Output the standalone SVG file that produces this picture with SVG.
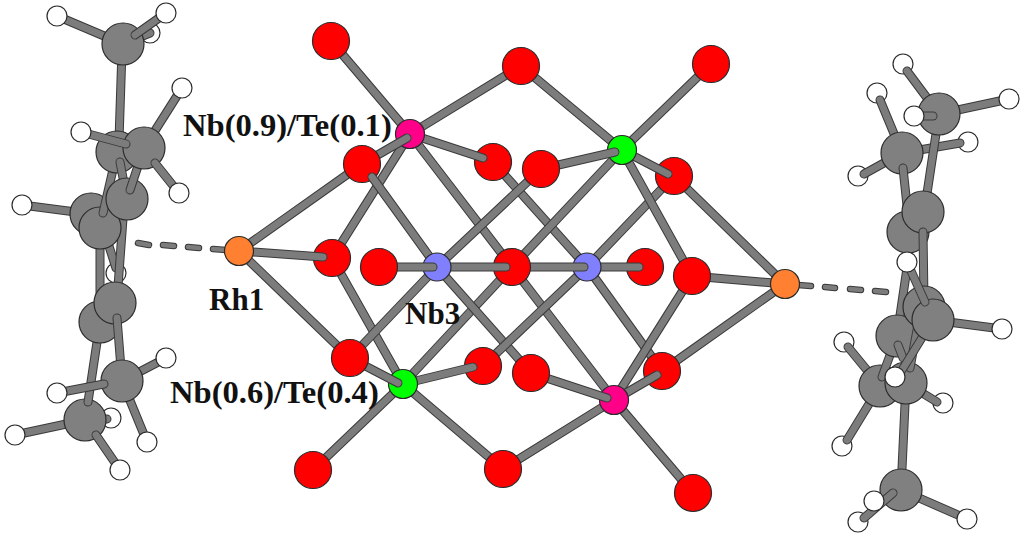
<svg xmlns="http://www.w3.org/2000/svg" width="1024" height="538" viewBox="0 0 1024 538">
<style>
.o{stroke:#3a3a3a;stroke-width:9;stroke-linecap:round;fill:none}
.i{stroke:#7c7c7c;stroke-width:7;stroke-linecap:round;fill:none}
.do{stroke:#3a3a3a;stroke-width:6.5;stroke-linecap:round;fill:none}
.di{stroke:#7c7c7c;stroke-width:4.5;stroke-linecap:round;fill:none}
circle{stroke:#2b2b2b;stroke-width:1.2}
.O circle{fill:#ff0000}
.C circle{fill:#808080}
.H circle{fill:#ffffff}
.P circle{fill:#ff0088}
.G circle{fill:#00ff00}
.B circle{fill:#8080ff}
.R circle{fill:#ff8030}
text{font-family:"Liberation Serif","Times New Roman",serif;font-weight:bold;font-size:31px;fill:#111}
text.long{font-size:32.6px}
</style>
<rect width="1024" height="538" fill="#ffffff"/>

<g id="bonds-core-back">
<path class="o" d="M331 41L410 134"/><path class="i" d="M331 41L410 134"/>
<path class="o" d="M521 66L410 134"/><path class="i" d="M521 66L410 134"/>
<path class="o" d="M521 66L622 150"/><path class="i" d="M521 66L622 150"/>
<path class="o" d="M711 64L622 150"/><path class="i" d="M711 64L622 150"/>
<path class="o" d="M410 134L332 258"/><path class="i" d="M410 134L332 258"/>
<path class="o" d="M410 134L512 267"/><path class="i" d="M410 134L512 267"/>
<path class="o" d="M493 162L587 267"/><path class="i" d="M493 162L587 267"/>
<path class="o" d="M541 169L437 267"/><path class="i" d="M541 169L437 267"/>
<path class="o" d="M622 150L512 267"/><path class="i" d="M622 150L512 267"/>
<path class="o" d="M674 176L587 267"/><path class="i" d="M674 176L587 267"/>
<path class="o" d="M622 150L692 276"/><path class="i" d="M622 150L692 276"/>
<path class="o" d="M332 258L403 384"/><path class="i" d="M332 258L403 384"/>
<path class="o" d="M437 267L350 358"/><path class="i" d="M437 267L350 358"/>
<path class="o" d="M512 267L403 384"/><path class="i" d="M512 267L403 384"/>
<path class="o" d="M437 267L531 373"/><path class="i" d="M437 267L531 373"/>
<path class="o" d="M512 267L614 400"/><path class="i" d="M512 267L614 400"/>
<path class="o" d="M587 267L483 366"/><path class="i" d="M587 267L483 366"/>
<path class="o" d="M587 267L662 371"/><path class="i" d="M587 267L662 371"/>
<path class="o" d="M692 276L614 400"/><path class="i" d="M692 276L614 400"/>
<path class="o" d="M403 384L313 470"/><path class="i" d="M403 384L313 470"/>
<path class="o" d="M403 384L503 469"/><path class="i" d="M403 384L503 469"/>
<path class="o" d="M503 469L614 400"/><path class="i" d="M503 469L614 400"/>
<path class="o" d="M614 400L693 493"/><path class="i" d="M614 400L693 493"/>
<path class="o" d="M239 251L362 164"/><path class="i" d="M239 251L362 164"/>
<path class="o" d="M239 251L350 358"/><path class="i" d="M239 251L350 358"/>
<path class="o" d="M785 284L674 176"/><path class="i" d="M785 284L674 176"/>
<path class="o" d="M785 284L692 276"/><path class="i" d="M785 284L692 276"/>
<path class="o" d="M785 284L662 371"/><path class="i" d="M785 284L662 371"/>
</g>
<g id="bonds-dashed">
<path class="do" d="M213 249L239 251M188 247L199 248M163 245L174 246M138 243L149 245"/><path class="di" d="M213 249L239 251M188 247L199 248M163 245L174 246M138 243L149 245"/>
<path class="do" d="M785 284L811 286M825 287L835 288M850 289L861 290M875 291L886 292"/><path class="di" d="M785 284L811 286M825 287L835 288M850 289L861 290M875 291L886 292"/>
</g>

<g id="O1" class="O"><circle cx="331" cy="41" r="18.5"/></g>
<g id="O2" class="O"><circle cx="521" cy="66" r="18.5"/></g>
<g id="O3" class="O"><circle cx="711" cy="64" r="18.5"/></g>
<g id="O4" class="O"><circle cx="645" cy="267" r="18.5"/></g>
<g class="bonds"><path class="o" d="M587 267L639 267"/><path class="i" d="M587 267L639 267"/></g>
<g id="Nb4" class="B"><circle cx="587" cy="267" r="14"/></g>
<g class="bonds"><path class="o" d="M512 267L584 267"/><path class="i" d="M512 267L584 267"/></g>
<g id="O5" class="O"><circle cx="512" cy="267" r="18.5"/></g>
<g class="bonds"><path class="o" d="M437 267L506 267"/><path class="i" d="M437 267L506 267"/></g>
<g id="O6" class="O"><circle cx="493" cy="162" r="18.5"/></g>
<g class="bonds"><path class="o" d="M410 134L483 158"/><path class="i" d="M410 134L483 158"/></g>
<g id="NbTe1" class="P"><circle cx="410" cy="134" r="14.5"/></g>
<g class="bonds"><path class="o" d="M362 164L407 138"/><path class="i" d="M362 164L407 138"/></g>
<g id="O7" class="O"><circle cx="362" cy="164" r="18.5"/></g>
<g class="bonds"><path class="o" d="M372 177L437 267"/><path class="i" d="M372 177L437 267"/></g>
<g id="Nb3" class="B"><circle cx="437" cy="267" r="14"/></g>
<g class="bonds"><path class="o" d="M379 267L433 267"/><path class="i" d="M379 267L433 267"/></g>
<g id="O8" class="O"><circle cx="379" cy="267" r="18.5"/></g>
<g id="O9" class="O"><circle cx="674" cy="176" r="18.5"/></g>
<g class="bonds"><path class="o" d="M622 150L668 174"/><path class="i" d="M622 150L668 174"/></g>
<g id="NbTe2" class="G"><circle cx="622" cy="150" r="14.5"/></g>
<g class="bonds"><path class="o" d="M541 169L615 152"/><path class="i" d="M541 169L615 152"/></g>
<g id="O10" class="O"><circle cx="541" cy="169" r="18.5"/></g>
<g id="O11" class="O"><circle cx="483" cy="366" r="18.5"/></g>
<g class="bonds"><path class="o" d="M403 384L473 367"/><path class="i" d="M403 384L473 367"/></g>
<g id="NbTe3" class="G"><circle cx="403" cy="384" r="14.5"/></g>
<g class="bonds"><path class="o" d="M350 358L398 383"/><path class="i" d="M350 358L398 383"/></g>
<g id="O12" class="O"><circle cx="350" cy="358" r="18.5"/></g>
<g id="O13" class="O"><circle cx="662" cy="371" r="18.5"/></g>
<g class="bonds"><path class="o" d="M614 400L657 375"/><path class="i" d="M614 400L657 375"/></g>
<g id="NbTe4" class="P"><circle cx="614" cy="400" r="14.5"/></g>
<g class="bonds"><path class="o" d="M531 373L607 398"/><path class="i" d="M531 373L607 398"/></g>
<g id="O14" class="O"><circle cx="531" cy="373" r="18.5"/></g>
<g id="O15" class="O"><circle cx="692" cy="276" r="18.5"/></g>
<g id="O16" class="O"><circle cx="313" cy="470" r="18.5"/></g>
<g id="O17" class="O"><circle cx="503" cy="469" r="18.5"/></g>
<g id="O18" class="O"><circle cx="693" cy="493" r="18.5"/></g>
<g id="O19" class="O"><circle cx="332" cy="258" r="18.5"/></g>
<g class="bonds"><path class="o" d="M239 251L323 257"/><path class="i" d="M239 251L323 257"/></g>
<g id="Rh1" class="R"><circle cx="239" cy="251" r="14.5"/></g>
<g id="Rh2" class="R"><circle cx="785" cy="284" r="14.5"/></g>

<!-- left ligand -->
<g id="LH1" class="H"><circle cx="150" cy="33" r="10"/></g>
<g class="bonds">
<path class="o" d="M150 33L123 44"/><path class="i" d="M150 33L123 44"/>
<path class="o" d="M57 16L123 44"/><path class="i" d="M57 16L123 44"/>
<path class="o" d="M122 50L119 140"/><path class="i" d="M122 50L119 140"/>
</g>
<g id="LC1" class="C"><circle cx="123" cy="44" r="21"/></g>
<g class="bonds"><path class="o" d="M135 35L166 13"/><path class="i" d="M135 35L166 13"/></g>
<g id="LH2" class="H"><circle cx="57" cy="16" r="10"/></g>
<g id="LH3" class="H"><circle cx="166" cy="13" r="10"/></g>
<g id="LH4" class="H"><circle cx="116" cy="273" r="10"/></g>
<g class="bonds">
<path class="o" d="M100 228L100 310"/><path class="i" d="M100 228L100 310"/>
<path class="o" d="M107 240L116 268"/><path class="i" d="M107 240L116 268"/>
<path class="o" d="M124 205L117 300"/><path class="i" d="M124 205L117 300"/>
<path class="o" d="M22 205L91 214"/><path class="i" d="M22 205L91 214"/>
</g>
<g id="LC5" class="C"><circle cx="91" cy="214" r="21"/></g>
<g id="LC6" class="C"><circle cx="100" cy="228" r="21"/></g>
<g class="bonds"><path class="o" d="M103 213L117 152"/><path class="i" d="M103 213L117 152"/></g>
<g id="LC2" class="C"><circle cx="117" cy="152" r="21"/></g>
<g class="bonds"><path class="o" d="M120 162L127 199"/><path class="i" d="M120 162L127 199"/></g>
<g id="LC4" class="C"><circle cx="127" cy="199" r="21"/></g>
<g class="bonds">
<path class="o" d="M144 148L130 190"/><path class="i" d="M144 148L130 190"/>
<path class="o" d="M144 148L182 88"/><path class="i" d="M144 148L182 88"/>
</g>
<g id="LC3" class="C"><circle cx="144" cy="148" r="21"/></g>
<g class="bonds">
<path class="o" d="M155 163L179 193"/><path class="i" d="M155 163L179 193"/>
<path class="o" d="M81 132L126 144"/><path class="i" d="M81 132L126 144"/>
</g>
<g id="LH5" class="H"><circle cx="81" cy="132" r="10"/></g>
<g id="LH6" class="H"><circle cx="182" cy="88" r="10"/></g>
<g id="LH7" class="H"><circle cx="179" cy="193" r="10"/></g>
<g id="LH8" class="H"><circle cx="22" cy="205" r="10"/></g>
<g id="LH9" class="H"><circle cx="111" cy="418" r="10"/></g>
<g class="bonds">
<path class="o" d="M107 419L85 420"/><path class="i" d="M107 419L85 420"/>
<path class="o" d="M15 435L85 420"/><path class="i" d="M15 435L85 420"/>
</g>
<g id="LC10" class="C"><circle cx="85" cy="420" r="21"/></g>
<g class="bonds">
<path class="o" d="M100 322L88 402"/><path class="i" d="M100 322L88 402"/>
<path class="o" d="M96 435L120 470"/><path class="i" d="M96 435L120 470"/>
</g>
<g id="LC8" class="C"><circle cx="100" cy="322" r="21"/></g>
<g id="LC7" class="C"><circle cx="115" cy="303" r="21"/></g>
<g class="bonds">
<path class="o" d="M117 318L122 381"/><path class="i" d="M117 318L122 381"/>
<path class="o" d="M122 381L166 358"/><path class="i" d="M122 381L166 358"/>
<path class="o" d="M122 381L147 442"/><path class="i" d="M122 381L147 442"/>
</g>
<g id="LC9" class="C"><circle cx="122" cy="381" r="21"/></g>
<g class="bonds"><path class="o" d="M57 393L104 384"/><path class="i" d="M57 393L104 384"/></g>
<g id="LH10" class="H"><circle cx="57" cy="393" r="10"/></g>
<g id="LH11" class="H"><circle cx="166" cy="358" r="10"/></g>
<g id="LH12" class="H"><circle cx="147" cy="442" r="10"/></g>
<g id="LH13" class="H"><circle cx="15" cy="435" r="10"/></g>
<g id="LH14" class="H"><circle cx="120" cy="470" r="10"/></g>

<!-- right ligand -->
<g id="RH1" class="H"><circle cx="968" cy="142" r="10"/></g>
<g id="RH2" class="H"><circle cx="903" cy="64" r="10"/></g>
<g id="RH3" class="H"><circle cx="877" cy="93" r="10"/></g>
<g id="RH4" class="H"><circle cx="858" cy="176" r="10"/></g>
<g class="bonds">
<path class="o" d="M902 153L960 143"/><path class="i" d="M902 153L960 143"/>
<path class="o" d="M907 71L939 114"/><path class="i" d="M907 71L939 114"/>
<path class="o" d="M880 100L902 153"/><path class="i" d="M880 100L902 153"/>
<path class="o" d="M864 174L902 153"/><path class="i" d="M864 174L902 153"/>
<path class="o" d="M939 114L1009 99"/><path class="i" d="M939 114L1009 99"/>
<path class="o" d="M939 114L926 200"/><path class="i" d="M939 114L926 200"/>
</g>
<g id="RC1" class="C"><circle cx="939" cy="114" r="21"/></g>
<g class="bonds"><path class="o" d="M914 116L933 116"/><path class="i" d="M914 116L933 116"/></g>
<g id="RH5" class="H"><circle cx="914" cy="116" r="10"/></g>
<g id="RH6" class="H"><circle cx="1009" cy="99" r="10"/></g>
<g id="RC2" class="C"><circle cx="902" cy="153" r="21"/></g>
<g class="bonds"><path class="o" d="M903 168L908 215"/><path class="i" d="M903 168L908 215"/></g>
<g id="RC3" class="C"><circle cx="908" cy="232" r="21"/></g>
<g id="RC4" class="C"><circle cx="923" cy="212" r="21"/></g>
<g class="bonds"><path class="o" d="M923 232L924 300"/><path class="i" d="M923 232L924 300"/></g>
<g id="RH7" class="H"><circle cx="844" cy="342" r="10"/></g>
<g id="RH8" class="H"><circle cx="842" cy="446" r="10"/></g>
<g id="RH9" class="H"><circle cx="943" cy="403" r="10"/></g>
<g id="RH10" class="H"><circle cx="858" cy="522" r="10"/></g>
<g class="bonds">
<path class="o" d="M848 347L880 386"/><path class="i" d="M848 347L880 386"/>
<path class="o" d="M847 440L880 386"/><path class="i" d="M847 440L880 386"/>
<path class="o" d="M906 383L937 402"/><path class="i" d="M906 383L937 402"/>
<path class="o" d="M906 383L901 490"/><path class="i" d="M906 383L901 490"/>
<path class="o" d="M901 490L967 519"/><path class="i" d="M901 490L967 519"/>
</g>
<g id="RH11" class="H"><circle cx="967" cy="519" r="10"/></g>
<g id="RC5" class="C"><circle cx="901" cy="490" r="21"/></g>
<g class="bonds"><path class="o" d="M893 493L864 518"/><path class="i" d="M893 493L864 518"/></g>
<g id="RH12" class="H"><circle cx="874" cy="501" r="10"/></g>
<g id="RC6" class="C"><circle cx="880" cy="386" r="21"/></g>
<g class="bonds"><path class="o" d="M897 336L882 377"/><path class="i" d="M897 336L882 377"/></g>
<g id="RC7" class="C"><circle cx="906" cy="383" r="21"/></g>
<g class="bonds"><path class="o" d="M907 268L897 336"/><path class="i" d="M907 268L897 336"/></g>
<g id="RC8" class="C"><circle cx="897" cy="336" r="21"/></g>
<g class="bonds">
<path class="o" d="M898 345L903 358"/><path class="i" d="M898 345L903 358"/>
<path class="o" d="M917 330L910 368"/><path class="i" d="M917 330L910 368"/>
<path class="o" d="M933 320L902 370"/><path class="i" d="M933 320L902 370"/>
</g>
<g id="RC9" class="C"><circle cx="924" cy="307" r="21"/></g>
<g class="bonds"><path class="o" d="M933 320L1002 329"/><path class="i" d="M933 320L1002 329"/></g>
<g id="RC10" class="C"><circle cx="933" cy="320" r="21"/></g>
<g class="bonds"><path class="o" d="M907 262L925 302"/><path class="i" d="M907 262L925 302"/></g>
<g id="RH13" class="H"><circle cx="1002" cy="329" r="10"/></g>
<g id="RH14" class="H"><circle cx="895" cy="377" r="10"/></g>
<g id="RH15" class="H"><circle cx="907" cy="262" r="10"/></g>

<g id="labels">
<text class="long" x="183" y="136">Nb(0.9)/Te(0.1)</text>
<text x="209" y="310">Rh1</text>
<text x="405" y="324">Nb3</text>
<text class="long" x="170" y="403">Nb(0.6)/Te(0.4)</text>
</g>
</svg>
